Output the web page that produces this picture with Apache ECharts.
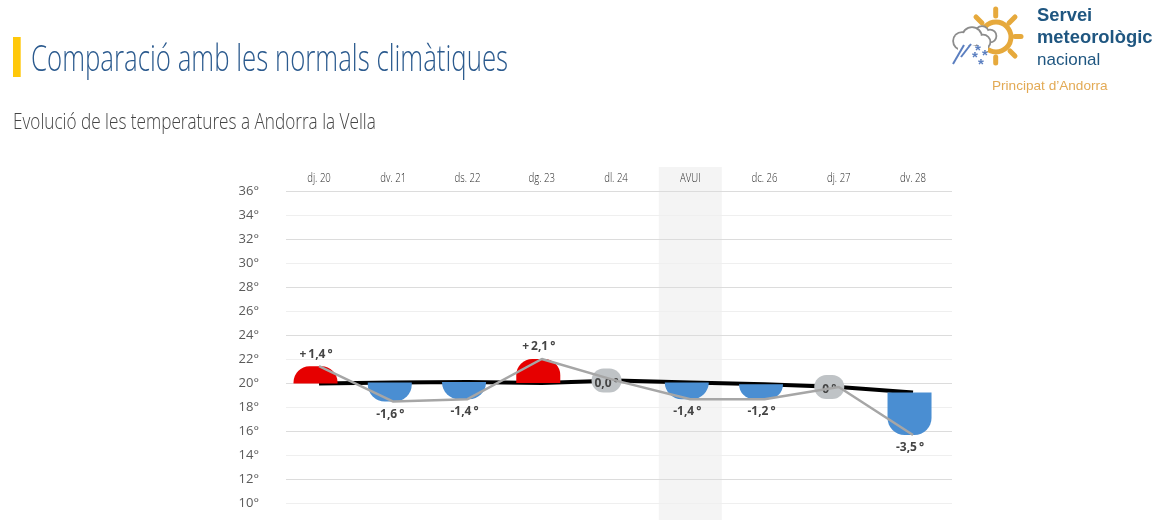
<!DOCTYPE html>
<html><head><meta charset="utf-8">
<style>html,body{margin:0;padding:0;background:#fff;overflow:hidden}#c{width:1164px;height:520px}</style>
<script src="https://cdn.jsdelivr.net/npm/echarts@6/dist/echarts.min.js"></script>
</head><body><div id="c"></div>
<script>
const categories = ['dj. 20','dv. 21','ds. 22','dg. 23','dl. 24','AVUI','dc. 26','dj. 27','dv. 28'];
const normals = [19.95,20.05,20.08,20.0,20.2,20.05,19.9,19.67,19.2];
const temps = [21.4,18.45,18.65,22.0,20.2,18.65,18.65,19.67,15.67];
const anomalies = [1.4,-1.6,-1.4,2.1,0,-1.4,-1.2,0,-3.5];
const anomalyLabels = ['+\u20091,4\u2009°','-1,6\u2009°','-1,4\u2009°','+\u20092,1\u2009°','0,0\u2009°','-1,4\u2009°','-1,2\u2009°','0\u2009°','-3,5\u2009°'];
const todayBand = ['AVUI'];
const bandRange = [38, 8];
const headerLevel = 37.05;

const chart = echarts.init(document.getElementById('c'), null, {renderer:'canvas'});
function ray(x1,y1,x2,y2){return {type:'line',shape:{x1,y1,x2,y2},style:{stroke:'#e6a93c',lineWidth:5,lineCap:'round'}};}
function ring(cx,cy,r){return {type:'circle',shape:{cx,cy,r},style:{fill:'#fff',stroke:'#8c8c8c',lineWidth:3.6}};}
function fillc(cx,cy,r){return {type:'circle',shape:{cx,cy,r},style:{fill:'#fff'}};}
function star(x,y){return {type:'text',x,y,style:{text:'*',font:'bold 15px "Liberation Sans"',fill:'#5b7fc0',align:'center',verticalAlign:'middle'}};}
const cloudBack=[[982,33,6],[990,36,5.5]];
const cloudFront=[[962,41,8],[972,37,9],[983,42,6.5]];
const FONT = '"Open Sans"';
chart.setOption({
  animation:false,
  backgroundColor:'#fff',
  graphic:{elements:[
    {type:'rect',shape:{x:13,y:37,width:7.7,height:40},style:{fill:'#ffc80a'}},
    {type:'text',x:31,y:61,scaleX:0.717,style:{text:'Comparació amb les normals climàtiques',font:'300 36px '+FONT,fill:'#2b5a8e',verticalAlign:'middle'}},
    {type:'text',x:13,y:123,scaleX:0.78,style:{text:'Evolució de les temperatures a Andorra la Vella',font:'300 22px '+FONT,fill:'#444',verticalAlign:'middle'}},
    ray(995.7,9,995.7,16), ray(995.7,57,995.7,63), ray(1015,36.5,1021,36.5),
    ray(1009,23,1015,17), ray(1010,51,1015,56), ray(982,23,976,17),
    {type:'circle',shape:{cx:996,cy:37,r:15},style:{fill:'none',stroke:'#e6a93c',lineWidth:5}},
    ...cloudBack.map(c=>ring(...c)), ...cloudBack.map(c=>fillc(...c)),
    ...cloudFront.map(c=>ring(...c)), ...cloudFront.map(c=>fillc(...c)),
    {type:'rect',shape:{x:958,y:46,width:30,height:5},style:{fill:'#fff'}},
    {type:'line',shape:{x1:953,y1:64,x2:964,y2:45},style:{stroke:'#5b7fc0',lineWidth:2}},
    {type:'line',shape:{x1:961,y1:57,x2:971,y2:44},style:{stroke:'#5b7fc0',lineWidth:2}},
    star(978,51), star(975,58), star(985,56), star(981,65),
    {type:'text',x:1037,y:16,style:{text:'Servei',font:'bold 18.4px "Liberation Sans"',fill:'#1f5680',verticalAlign:'middle'}},
    {type:'text',x:1037,y:38,style:{text:'meteorològic',font:'bold 18.4px "Liberation Sans"',fill:'#1f5680',verticalAlign:'middle'}},
    {type:'text',x:1037,y:60,style:{text:'nacional',font:'17px "Liberation Sans"',fill:'#1f5680',verticalAlign:'middle'}},
    {type:'text',x:992,y:86,style:{text:'Principat d’Andorra',font:'13.6px "Liberation Sans"',fill:'#e3aa55',verticalAlign:'middle'}}
  ]},
  grid:[
    {left:286,top:191,width:666,height:336,outerBoundsMode:'none'},
    {left:281.9,top:191,width:668.25,height:336,outerBoundsMode:'none'}
  ],
  xAxis:[
    {gridIndex:0,type:'category',show:false,data:categories},
    {gridIndex:1,type:'category',position:'top',data:categories,boundaryGap:true,
     axisLine:{show:false},axisTick:{show:false},splitLine:{show:false},axisLabel:{show:false}}
  ],
  yAxis:[
    {gridIndex:0,type:'value',min:8,max:36,interval:2,
     axisLine:{show:false},axisTick:{show:false},
     axisLabel:{margin:27,color:'#5a5a5a',fontFamily:FONT,fontSize:13,showMinLabel:false,
       formatter:v=>v+'°',padding:[0,0,7,0]},
     splitLine:{show:true,lineStyle:{color:['#dcdcdc','#efefef'],width:1}}},
    {gridIndex:1,type:'value',min:8,max:36,interval:2,show:false,splitLine:{show:false}}
  ],
  series:[
    {type:'custom',name:'avui',xAxisIndex:1,yAxisIndex:1,z:-1,silent:true,
     data:todayBand.map(c=>[categories.indexOf(c),bandRange[0],bandRange[1]]),
     renderItem(p,api){
       const a=api.coord([api.value(0),api.value(1)]),b=api.coord([api.value(0),api.value(2)]);
       return {type:'rect',shape:{x:a[0]-31.5,y:a[1],width:63,height:b[1]-a[1]},style:{fill:'#f4f4f4'}};
     }},
    {type:'custom',name:'dies',xAxisIndex:1,yAxisIndex:1,z:1,silent:true,
     data:categories.map((c,i)=>[i,headerLevel]),
     renderItem(p,api){
       const a=api.coord([api.value(0),api.value(1)]);
       return {type:'text',x:a[0],y:a[1],scaleX:0.8,style:{text:categories[p.dataIndex],font:'300 12px '+FONT,fill:'#2a2a2a',align:'center',verticalAlign:'middle'}};
     }},
    {type:'line',name:'normal',xAxisIndex:1,yAxisIndex:1,z:1,data:normals,symbol:'none',silent:true,
     lineStyle:{color:'#000',width:4}},
    {type:'custom',name:'anomalia',xAxisIndex:1,yAxisIndex:1,z:2,silent:true,
     data:categories.map((c,i)=>[i,normals[i],temps[i],anomalies[i]]),
     renderItem(p,api){
       const i=api.value(0),a=api.value(3);
       const n=api.coord([i,api.value(1)]),t=api.coord([i,api.value(2)]);
       const lab=anomalyLabels[p.dataIndex];
       const tx={fontFamily:FONT,fontWeight:'bold',fontSize:12,fill:'#444',align:'center',verticalAlign:'middle',text:lab};
       if(a===0){
         const cx=n[0]-9.5;
         return {type:'group',children:[
           {type:'rect',shape:{x:cx-15,y:t[1]-12,width:30,height:24,r:12},style:{fill:'#bfc3c6'}},
           {type:'text',x:cx,y:t[1]+2.5,style:tx}
         ]};
       }
       const cx=n[0]-3.5, w=44, up=a>0;
       const y=Math.min(n[1],t[1]),h=Math.abs(n[1]-t[1]);
       return {type:'group',children:[
         {type:'rect',shape:{x:cx-w/2,y,width:w,height:h,r:up?[16,16,0,0]:[0,0,17,17]},style:{fill:up?'#e60000':'#4a8ed2'}},
         {type:'text',x:cx+0.5,y:up?y-12:y+h+12.5,style:tx}
       ]};
     }},
    {type:'line',name:'temperatura',xAxisIndex:1,yAxisIndex:1,z:3,data:temps,symbol:'none',silent:true,
     lineStyle:{color:'#a6a6a6',width:2.5}}
  ]
});
</script></body></html>
